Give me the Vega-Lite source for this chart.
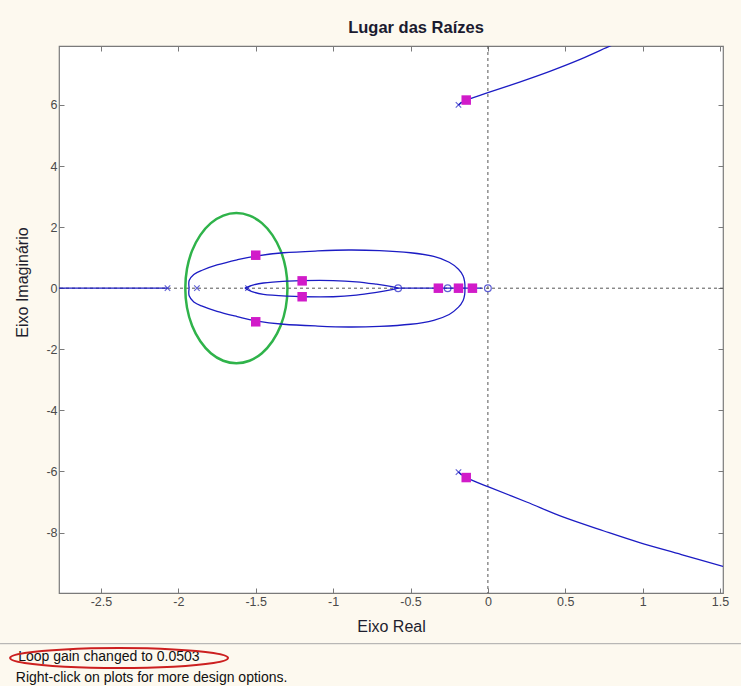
{
  "$schema": "https://vega.github.io/schema/vega-lite/v6.json",
  "width": 664,
  "height": 547,
  "autosize": {"type": "none"},
  "padding": {"left": 59, "top": 46, "right": 18, "bottom": 93},
  "background": "#FDF9EF",
  "config": {
    "locale": {"number": {"decimal": ".", "thousands": ",", "grouping": [3], "currency": ["$", ""], "minus": "-"}},
    "view": {"fill": "white", "stroke": "#7a7a7a", "strokeWidth": 1.2},
    "font": "Liberation Sans",
    "axis": {"grid": false, "domain": false, "tickColor": "#7a7a7a", "tickSize": -5, "labelFont": "Liberation Sans", "labelFontSize": 12.5, "labelColor": "#4a4a4a", "titleFont": "Liberation Sans", "titleFontSize": 16, "titleFontWeight": "normal", "titleColor": "#1e1e2e"}
  },
  "title": {"text": "Lugar das Raízes", "font": "Liberation Sans", "fontSize": 16.5, "fontWeight": "bold", "color": "#1b1b30", "offset": 9, "dx": 25},
  "datasets": {
    "locus": [
      {"b": "A", "k": 0, "re": -2.771, "im": 0}, {"b": "A", "k": 1, "re": -2.07, "im": 0},
      {"b": "B", "k": 0, "re": -1.93, "im": 0}, {"b": "B", "k": 1, "re": -1.93, "im": 0.25}, {"b": "B", "k": 2, "re": -1.9, "im": 0.45}, {"b": "B", "k": 3, "re": -1.85, "im": 0.58}, {"b": "B", "k": 4, "re": -1.75, "im": 0.76}, {"b": "B", "k": 5, "re": -1.62, "im": 0.93}, {"b": "B", "k": 6, "re": -1.5, "im": 1.05}, {"b": "B", "k": 7, "re": -1.32, "im": 1.16}, {"b": "B", "k": 8, "re": -1.1, "im": 1.22}, {"b": "B", "k": 9, "re": -0.9, "im": 1.25}, {"b": "B", "k": 10, "re": -0.7, "im": 1.23}, {"b": "B", "k": 11, "re": -0.5, "im": 1.16}, {"b": "B", "k": 12, "re": -0.35, "im": 1.04}, {"b": "B", "k": 13, "re": -0.25, "im": 0.85}, {"b": "B", "k": 14, "re": -0.19, "im": 0.62}, {"b": "B", "k": 15, "re": -0.16, "im": 0.4}, {"b": "B", "k": 16, "re": -0.15, "im": 0.2}, {"b": "B", "k": 17, "re": -0.148, "im": 0},
      {"b": "C", "k": 0, "re": -1.93, "im": 0}, {"b": "C", "k": 1, "re": -1.93, "im": -0.25}, {"b": "C", "k": 2, "re": -1.9, "im": -0.45}, {"b": "C", "k": 3, "re": -1.85, "im": -0.58}, {"b": "C", "k": 4, "re": -1.75, "im": -0.76}, {"b": "C", "k": 5, "re": -1.62, "im": -0.93}, {"b": "C", "k": 6, "re": -1.5, "im": -1.07}, {"b": "C", "k": 7, "re": -1.32, "im": -1.18}, {"b": "C", "k": 8, "re": -1.1, "im": -1.24}, {"b": "C", "k": 9, "re": -0.9, "im": -1.27}, {"b": "C", "k": 10, "re": -0.7, "im": -1.25}, {"b": "C", "k": 11, "re": -0.5, "im": -1.18}, {"b": "C", "k": 12, "re": -0.35, "im": -1.05}, {"b": "C", "k": 13, "re": -0.25, "im": -0.86}, {"b": "C", "k": 14, "re": -0.19, "im": -0.62}, {"b": "C", "k": 15, "re": -0.16, "im": -0.4}, {"b": "C", "k": 16, "re": -0.15, "im": -0.2}, {"b": "C", "k": 17, "re": -0.148, "im": 0},
      {"b": "D", "k": 0, "re": -1.57, "im": 0}, {"b": "D", "k": 1, "re": -1.52, "im": 0.1}, {"b": "D", "k": 2, "re": -1.45, "im": 0.17}, {"b": "D", "k": 3, "re": -1.3, "im": 0.23}, {"b": "D", "k": 4, "re": -1.2, "im": 0.25}, {"b": "D", "k": 5, "re": -1.0, "im": 0.25}, {"b": "D", "k": 6, "re": -0.85, "im": 0.21}, {"b": "D", "k": 7, "re": -0.72, "im": 0.13}, {"b": "D", "k": 8, "re": -0.62, "im": 0.05}, {"b": "D", "k": 9, "re": -0.58, "im": 0},
      {"b": "E", "k": 0, "re": -1.57, "im": 0}, {"b": "E", "k": 1, "re": -1.52, "im": -0.12}, {"b": "E", "k": 2, "re": -1.45, "im": -0.2}, {"b": "E", "k": 3, "re": -1.3, "im": -0.26}, {"b": "E", "k": 4, "re": -1.2, "im": -0.28}, {"b": "E", "k": 5, "re": -1.0, "im": -0.28}, {"b": "E", "k": 6, "re": -0.85, "im": -0.23}, {"b": "E", "k": 7, "re": -0.72, "im": -0.14}, {"b": "E", "k": 8, "re": -0.62, "im": -0.05}, {"b": "E", "k": 9, "re": -0.58, "im": 0},
      {"b": "F", "k": 0, "re": -0.58, "im": 0}, {"b": "F", "k": 1, "re": -0.04, "im": 0},
      {"b": "G", "k": 0, "re": -0.19, "im": 6.0}, {"b": "G", "k": 1, "re": -0.14, "im": 6.16}, {"b": "G", "k": 2, "re": 0, "im": 6.4}, {"b": "G", "k": 3, "re": 0.2, "im": 6.74}, {"b": "G", "k": 4, "re": 0.4, "im": 7.1}, {"b": "G", "k": 5, "re": 0.6, "im": 7.5}, {"b": "G", "k": 6, "re": 0.79, "im": 7.93}, {"b": "G", "k": 7, "re": 0.85, "im": 8.05},
      {"b": "H", "k": 0, "re": -0.19, "im": -6.02}, {"b": "H", "k": 1, "re": -0.14, "im": -6.2}, {"b": "H", "k": 2, "re": 0, "im": -6.5}, {"b": "H", "k": 3, "re": 0.25, "im": -7.0}, {"b": "H", "k": 4, "re": 0.48, "im": -7.48}, {"b": "H", "k": 5, "re": 0.75, "im": -7.95}, {"b": "H", "k": 6, "re": 0.98, "im": -8.33}, {"b": "H", "k": 7, "re": 1.25, "im": -8.72}, {"b": "H", "k": 8, "re": 1.519, "im": -9.11}
    ],
    "green": [
      {"k": 0, "re": -1.295, "im": 0}, {"k": 1, "re": -1.306, "im": 0.637}, {"k": 2, "re": -1.339, "im": 1.23}, {"k": 3, "re": -1.392, "im": 1.739}, {"k": 4, "re": -1.46, "im": 2.13}, {"k": 5, "re": -1.54, "im": 2.376}, {"k": 6, "re": -1.625, "im": 2.46}, {"k": 7, "re": -1.71, "im": 2.376}, {"k": 8, "re": -1.79, "im": 2.13}, {"k": 9, "re": -1.858, "im": 1.739}, {"k": 10, "re": -1.911, "im": 1.23}, {"k": 11, "re": -1.944, "im": 0.637}, {"k": 12, "re": -1.955, "im": 0}, {"k": 13, "re": -1.944, "im": -0.637}, {"k": 14, "re": -1.911, "im": -1.23}, {"k": 15, "re": -1.858, "im": -1.739}, {"k": 16, "re": -1.79, "im": -2.13}, {"k": 17, "re": -1.71, "im": -2.376}, {"k": 18, "re": -1.625, "im": -2.46}, {"k": 19, "re": -1.54, "im": -2.376}, {"k": 20, "re": -1.46, "im": -2.13}, {"k": 21, "re": -1.392, "im": -1.739}, {"k": 22, "re": -1.339, "im": -1.23}, {"k": 23, "re": -1.306, "im": -0.637}
    ],
    "poles": [
      {"re": -2.07, "im": 0}, {"re": -1.88, "im": 0}, {"re": -1.55, "im": 0}, {"re": -0.19, "im": 6.0}, {"re": -0.19, "im": -6.02}
    ],
    "zeros": [
      {"re": -0.58, "im": 0}, {"re": -0.26, "im": 0}, {"re": 0, "im": 0}
    ],
    "closed": [
      {"re": -1.5, "im": 1.08}, {"re": -1.5, "im": -1.1}, {"re": -1.2, "im": 0.24}, {"re": -1.2, "im": -0.28}, {"re": -0.32, "im": 0}, {"re": -0.19, "im": 0}, {"re": -0.1, "im": 0}, {"re": -0.14, "im": 6.16}, {"re": -0.14, "im": -6.2}
    ],
    "redring": [
      {"k": 0, "re": -1.679, "im": -12.11}, {"k": 1, "re": -1.773, "im": -11.947}, {"k": 2, "re": -2.031, "im": -11.827}, {"k": 3, "re": -2.383, "im": -11.783}, {"k": 4, "re": -2.735, "im": -11.827}, {"k": 5, "re": -2.993, "im": -11.947}, {"k": 6, "re": -3.087, "im": -12.11}, {"k": 7, "re": -2.993, "im": -12.273}, {"k": 8, "re": -2.735, "im": -12.393}, {"k": 9, "re": -2.383, "im": -12.437}, {"k": 10, "re": -2.031, "im": -12.393}, {"k": 11, "re": -1.773, "im": -12.273}
    ],
    "footer": [
      {"re": -3.035, "im": -12.09, "txt": "Loop gain changed to 0.0503"},
      {"re": -3.05, "im": -12.76, "txt": "Right-click on plots for more design options."}
    ],
    "sep": [{"re": -3.152, "re2": 1.635, "im": -11.64}]
  },
  "layer": [
    {
      "layer": [
        {
          "data": {"values": [{"re": 0}]},
          "mark": {"type": "rule", "color": "#555555", "strokeDash": [3, 3], "strokeWidth": 1},
          "encoding": {
            "x": {"field": "re", "type": "quantitative", "scale": {"domain": [-2.771, 1.519], "nice": false, "zero": false},
                  "axis": {"orient": "bottom", "values": [-2.5, -2, -1.5, -1, -0.5, 0, 0.5, 1, 1.5], "format": "~g", "title": "Eixo Real", "labelPadding": 7, "titlePadding": 11}}
          }
        },
        {
          "data": {"values": [{"im": 0}]},
          "mark": {"type": "rule", "color": "#555555", "strokeDash": [3, 3], "strokeWidth": 1},
          "encoding": {
            "y": {"field": "im", "type": "quantitative", "scale": {"domain": [-9.98, 7.93], "nice": false, "zero": false},
                  "axis": {"orient": "left", "values": [-8, -6, -4, -2, 0, 2, 4, 6], "format": "~g", "title": "Eixo Imaginário", "labelPadding": 7, "titleX": -29, "titleY": 236}}
          }
        },
        {
          "data": {"name": "green"},
          "mark": {"type": "line", "color": "#2fb34a", "strokeWidth": 2.5, "interpolate": "cardinal-closed"},
          "encoding": {
            "x": {"field": "re", "type": "quantitative"},
            "y": {"field": "im", "type": "quantitative"},
            "order": {"field": "k", "type": "quantitative"}
          }
        },
        {
          "data": {"name": "locus"},
          "mark": {"type": "line", "color": "#1c1cc4", "strokeWidth": 1.3, "interpolate": "cardinal", "clip": true},
          "encoding": {
            "x": {"field": "re", "type": "quantitative"},
            "y": {"field": "im", "type": "quantitative"},
            "detail": {"field": "b", "type": "nominal"},
            "order": {"field": "k", "type": "quantitative"}
          }
        },
        {
          "data": {"name": "poles"},
          "mark": {"type": "point", "shape": "M-1,-1L1,1M-1,1L1,-1", "filled": false, "color": "#1c1cc4", "size": 30, "strokeWidth": 1.1},
          "encoding": {
            "x": {"field": "re", "type": "quantitative"},
            "y": {"field": "im", "type": "quantitative"}
          }
        },
        {
          "data": {"name": "zeros"},
          "mark": {"type": "point", "shape": "circle", "filled": false, "color": "#1c1cc4", "size": 45, "strokeWidth": 1.2},
          "encoding": {
            "x": {"field": "re", "type": "quantitative"},
            "y": {"field": "im", "type": "quantitative"}
          }
        },
        {
          "data": {"name": "closed"},
          "mark": {"type": "point", "shape": "square", "filled": true, "color": "#d11bc9", "size": 90, "opacity": 1},
          "encoding": {
            "x": {"field": "re", "type": "quantitative"},
            "y": {"field": "im", "type": "quantitative"}
          }
        },
        {
          "data": {"name": "sep"},
          "mark": {"type": "rule", "color": "#a8a8a8", "strokeWidth": 1, "clip": false},
          "encoding": {
            "x": {"field": "re", "type": "quantitative"},
            "x2": {"field": "re2"},
            "y": {"field": "im", "type": "quantitative"}
          }
        },
        {
          "data": {"name": "footer"},
          "mark": {"type": "text", "align": "left", "baseline": "middle", "font": "Liberation Sans", "fontSize": 14, "color": "#111111", "clip": false},
          "encoding": {
            "x": {"field": "re", "type": "quantitative"},
            "y": {"field": "im", "type": "quantitative"},
            "text": {"field": "txt", "type": "nominal"}
          }
        },
        {
          "data": {"name": "redring"},
          "mark": {"type": "line", "color": "#cc2020", "strokeWidth": 2, "interpolate": "cardinal-closed", "clip": false},
          "encoding": {
            "x": {"field": "re", "type": "quantitative"},
            "y": {"field": "im", "type": "quantitative"},
            "order": {"field": "k", "type": "quantitative"}
          }
        }
      ]
    },
    {
      "data": {"values": [{"re": 0, "im": 0}]},
      "mark": {"type": "point", "opacity": 0},
      "encoding": {
        "x": {"field": "re", "type": "quantitative", "axis": {"orient": "top", "values": [-2.5, -2, -1.5, -1, -0.5, 0, 0.5, 1, 1.5], "labels": false, "title": null}},
        "y": {"field": "im", "type": "quantitative", "axis": {"orient": "right", "values": [-8, -6, -4, -2, 0, 2, 4, 6], "labels": false, "title": null}}
      }
    }
  ],
  "resolve": {"axis": {"x": "independent", "y": "independent"}}
}
